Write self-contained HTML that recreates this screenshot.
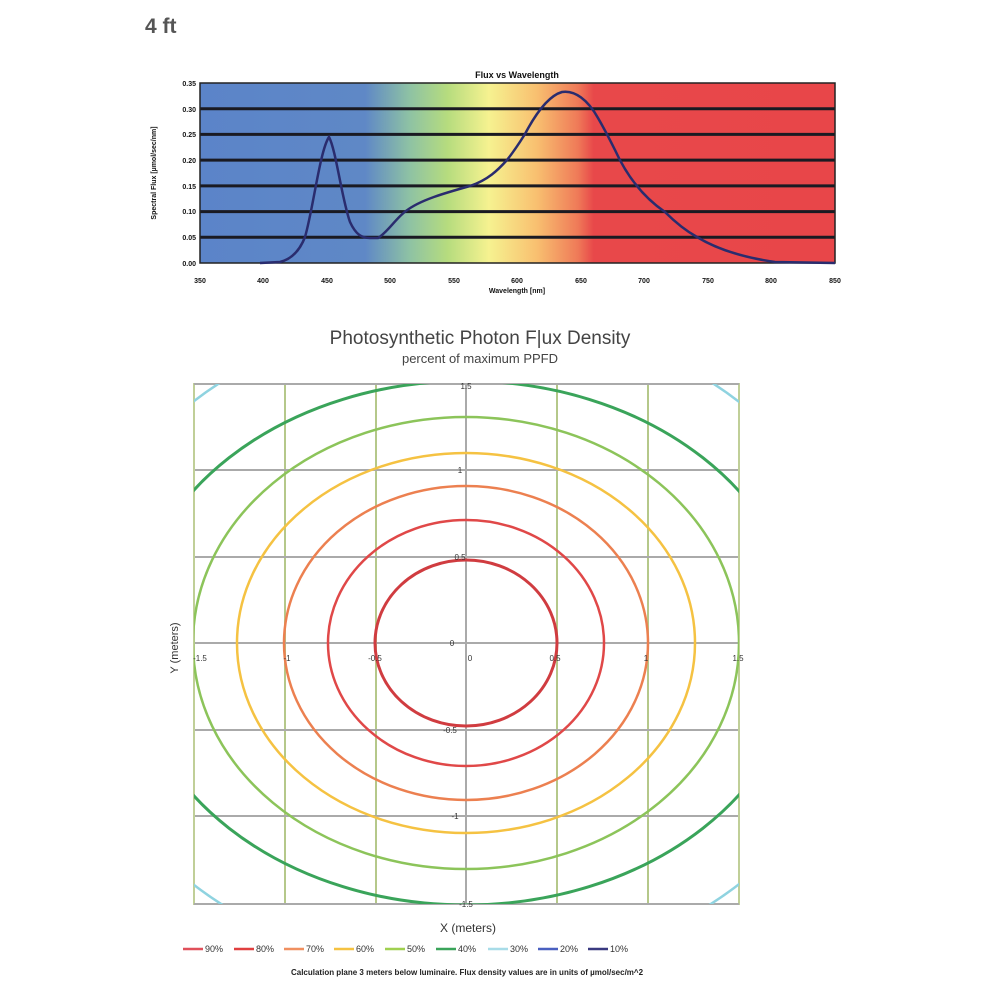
<!DOCTYPE html>
<html><head><meta charset="utf-8"><style>
body{margin:0;background:#fff;width:1000px;height:1000px;overflow:hidden;font-family:"Liberation Sans",sans-serif}
</style></head><body>
<svg width="1000" height="1000" viewBox="0 0 1000 1000" xmlns="http://www.w3.org/2000/svg" font-family="Liberation Sans, sans-serif">
<defs>
<linearGradient id="spec" x1="200" x2="835" y1="0" y2="0" gradientUnits="userSpaceOnUse">
<stop offset="0" stop-color="#5b84c9"/>
<stop offset="0.26" stop-color="#5f88c6"/>
<stop offset="0.33" stop-color="#8ec2a4"/>
<stop offset="0.39" stop-color="#b6dc7e"/>
<stop offset="0.455" stop-color="#f6f290"/>
<stop offset="0.53" stop-color="#f8c070"/>
<stop offset="0.595" stop-color="#ef7a58"/>
<stop offset="0.62" stop-color="#e8484a"/>
<stop offset="1" stop-color="#e84649"/>
</linearGradient>
<clipPath id="pc"><rect x="194" y="384" width="545" height="520"/></clipPath>
</defs>
<text x="145" y="33" font-size="21" font-weight="bold" fill="#555">4 ft</text>
<text x="517" y="78" font-size="9" font-weight="bold" text-anchor="middle" fill="#111">Flux vs Wavelength</text>
<rect x="200" y="83" width="635" height="180" fill="url(#spec)"/>
<g stroke="#1a1a22" stroke-width="3">
<line x1="200" x2="835" y1="108.7" y2="108.7"/><line x1="200" x2="835" y1="134.4" y2="134.4"/>
<line x1="200" x2="835" y1="160.1" y2="160.1"/><line x1="200" x2="835" y1="185.9" y2="185.9"/>
<line x1="200" x2="835" y1="211.6" y2="211.6"/><line x1="200" x2="835" y1="237.3" y2="237.3"/>
</g>
<rect x="200" y="83" width="635" height="180" fill="none" stroke="#222" stroke-width="1.5"/>
<path d="M260,263 L280,262 C292,259 300,250 305,237 C313,210 320,150 329,137 C336,150 342,200 350,222 C356,235 362,238 370,238 L378,238 C388,232 396,218 406,211 C420,200 445,193 470,186 C488,180 498,170 507,160 C515,150 520,142 525,134 C535,115 548,96 562,92 C575,90 588,100 598,118 C605,130 610,140 615,150 C625,172 640,195 665,212 C678,225 688,232 697,237 C715,248 740,257 775,262 L835,263" fill="none" stroke="#2a2c6e" stroke-width="2.5"/>
<g font-size="7" font-weight="bold" fill="#111" text-anchor="end">
<text x="196" y="86">0.35</text><text x="196" y="112">0.30</text><text x="196" y="137">0.25</text>
<text x="196" y="163">0.20</text><text x="196" y="189">0.15</text><text x="196" y="214">0.10</text>
<text x="196" y="240">0.05</text><text x="196" y="266">0.00</text>
</g>
<g font-size="7" font-weight="bold" fill="#111" text-anchor="middle">
<text x="200" y="283">350</text><text x="263" y="283">400</text><text x="327" y="283">450</text>
<text x="390" y="283">500</text><text x="454" y="283">550</text><text x="517" y="283">600</text>
<text x="581" y="283">650</text><text x="644" y="283">700</text><text x="708" y="283">750</text>
<text x="771" y="283">800</text><text x="835" y="283">850</text>
<text x="517" y="293">Wavelength [nm]</text>
</g>
<text transform="translate(156,173) rotate(-90)" font-size="7" font-weight="bold" text-anchor="middle" fill="#111">Spectral Flux [µmol/sec/nm]</text>
<text x="480" y="344" font-size="19" text-anchor="middle" fill="#444">Photosynthetic Photon F|ux Density</text>
<text x="480" y="363" font-size="13" text-anchor="middle" fill="#444">percent of maximum PPFD</text>
<g stroke="#b5c88a" stroke-width="2">
<line x1="285" x2="285" y1="384" y2="904"/><line x1="376" x2="376" y1="384" y2="904"/>
<line x1="557" x2="557" y1="384" y2="904"/><line x1="648" x2="648" y1="384" y2="904"/>
</g>
<g stroke="#aaa" stroke-width="2">
<line x1="194" x2="739" y1="470" y2="470"/><line x1="194" x2="739" y1="557" y2="557"/>
<line x1="194" x2="739" y1="643" y2="643"/><line x1="194" x2="739" y1="730" y2="730"/>
<line x1="194" x2="739" y1="816" y2="816"/>
<line x1="466" x2="466" y1="384" y2="904"/>
</g>
<rect x="194" y="384" width="545" height="520" fill="none" stroke="#c0cf98" stroke-width="2"/>
<line x1="194" x2="739" y1="384" y2="384" stroke="#aaa" stroke-width="2"/>
<line x1="194" x2="739" y1="904" y2="904" stroke="#aaa" stroke-width="2"/>
<g clip-path="url(#pc)" fill="none" stroke-width="2.5">
<ellipse cx="466" cy="643" rx="400" ry="330" stroke="#8fd3e0"/>
<ellipse cx="466" cy="643" rx="335" ry="262" stroke="#3aa45a" stroke-width="3"/>
<ellipse cx="466" cy="643" rx="273" ry="226" stroke="#8cc45a"/>
<ellipse cx="466" cy="643" rx="229" ry="190" stroke="#f5c242"/>
<ellipse cx="466" cy="643" rx="182" ry="157" stroke="#ec8050"/>
<ellipse cx="466" cy="643" rx="138" ry="123" stroke="#e04848"/>
<ellipse cx="466" cy="643" rx="91" ry="83" stroke="#d03c40" stroke-width="3"/>
</g>
<g font-size="8" fill="#333" text-anchor="middle">
<text x="466" y="389">1.5</text><text x="460" y="473">1</text><text x="460" y="560">0.5</text>
<text x="452" y="646">0</text><text x="450" y="733">-0.5</text><text x="455" y="819">-1</text><text x="466" y="907">-1.5</text>
<text x="200" y="661">-1.5</text><text x="287" y="661">-1</text><text x="375" y="661">-0.5</text>
<text x="470" y="661">0</text><text x="555" y="661">0.5</text><text x="646" y="661">1</text><text x="738" y="661">1.5</text>
</g>
<text transform="translate(178,648) rotate(-90)" font-size="11" text-anchor="middle" fill="#333">Y (meters)</text>
<text x="468" y="932" font-size="12" text-anchor="middle" fill="#333">X (meters)</text>
<g stroke-width="2.5">
<line x1="183" x2="203" y1="949" y2="949" stroke="#e0505a"/>
<line x1="234" x2="254" y1="949" y2="949" stroke="#e04040"/>
<line x1="284" x2="304" y1="949" y2="949" stroke="#f09060"/>
<line x1="334" x2="354" y1="949" y2="949" stroke="#f5c242"/>
<line x1="385" x2="405" y1="949" y2="949" stroke="#a0d050"/>
<line x1="436" x2="456" y1="949" y2="949" stroke="#3aa45a"/>
<line x1="488" x2="508" y1="949" y2="949" stroke="#a8dce8"/>
<line x1="538" x2="558" y1="949" y2="949" stroke="#4a60c0"/>
<line x1="588" x2="608" y1="949" y2="949" stroke="#3a3a80"/>
</g>
<g font-size="9" fill="#333">
<text x="205" y="952">90%</text><text x="256" y="952">80%</text><text x="306" y="952">70%</text>
<text x="356" y="952">60%</text><text x="407" y="952">50%</text><text x="458" y="952">40%</text>
<text x="510" y="952">30%</text><text x="560" y="952">20%</text><text x="610" y="952">10%</text>
</g>
<text x="467" y="975" font-size="8" font-weight="bold" text-anchor="middle" fill="#222">Calculation plane 3 meters below luminaire. Flux density values are in units of µmol/sec/m^2</text>
</svg>
</body></html>
